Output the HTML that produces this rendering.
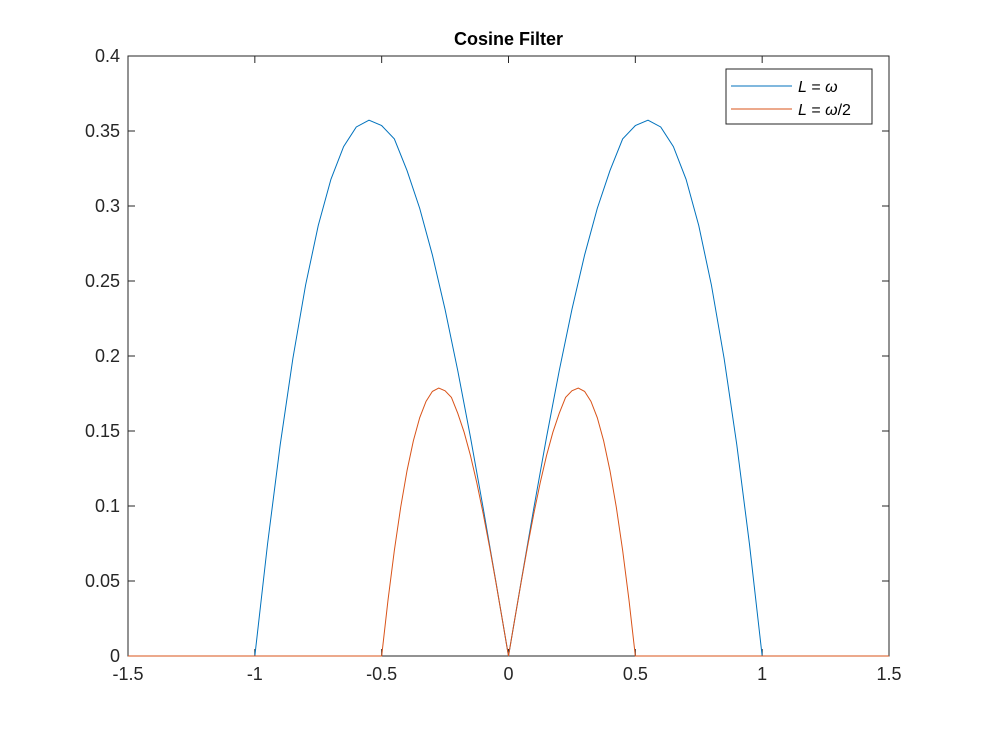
<!DOCTYPE html>
<html><head><meta charset="utf-8"><style>
body{margin:0;background:#fff;}
svg text{font-family:"Liberation Sans",sans-serif;}
</style></head><body>
<svg id="c" width="983" height="736" xmlns="http://www.w3.org/2000/svg"></svg>
<script>
const xTicks=[-1.5,-1,-0.5,0,0.5,1,1.5];
const xTickLabels=["-1.5","-1","-0.5","0","0.5","1","1.5"];
const yTicks=[0,0.05,0.1,0.15,0.2,0.25,0.3,0.35,0.4];
const yTickLabels=["0","0.05","0.1","0.15","0.2","0.25","0.3","0.35","0.4"];
const blueX=[-1.5,-1,-0.95,-0.9,-0.85,-0.8,-0.75,-0.7,-0.65,-0.6,-0.55,-0.5,-0.45,-0.4,-0.35,-0.3,-0.25,-0.2,-0.15,-0.1,-0.05,0,0.05,0.1,0.15,0.2,0.25,0.3,0.35,0.4,0.45,0.5,0.55,0.6,0.65,0.7,0.75,0.8,0.85,0.9,0.95,1,1.5];
const blueY=[0,0,0.0745,0.1408,0.1984,0.2472,0.2870,0.3178,0.3396,0.3527,0.3572,0.3536,0.3447,0.3236,0.2984,0.2673,0.2310,0.1902,0.1459,0.0988,0.0498,0,0.0498,0.0988,0.1459,0.1902,0.2310,0.2673,0.2984,0.3236,0.3447,0.3536,0.3572,0.3527,0.3396,0.3178,0.2870,0.2472,0.1984,0.1408,0.0745,0,0];
const redX=[-1.5,-0.5,-0.475,-0.45,-0.425,-0.4,-0.375,-0.35,-0.325,-0.3,-0.275,-0.25,-0.225,-0.2,-0.175,-0.15,-0.125,-0.1,-0.075,-0.05,-0.025,0,0.025,0.05,0.075,0.1,0.125,0.15,0.175,0.2,0.225,0.25,0.275,0.3,0.325,0.35,0.375,0.4,0.425,0.45,0.475,0.5,1.5];
const redY=[0,0,0.0373,0.0704,0.0992,0.1236,0.1435,0.1589,0.1698,0.1764,0.1786,0.1768,0.1724,0.1618,0.1492,0.1337,0.1155,0.0951,0.0730,0.0494,0.0249,0,0.0249,0.0494,0.0730,0.0951,0.1155,0.1337,0.1492,0.1618,0.1724,0.1768,0.1786,0.1764,0.1698,0.1589,0.1435,0.1236,0.0992,0.0704,0.0373,0,0];
const L=128,R=889,T=56,B=656;
const sx=v=>L+(v+1.5)/3*(R-L);
const sy=v=>B-v/0.4*(B-T);
const svg=document.getElementById('c');
const NS='http://www.w3.org/2000/svg';
function mk(tag,attrs,parent){const e=document.createElementNS(NS,tag);for(const k in attrs)e.setAttribute(k,attrs[k]);(parent||svg).appendChild(e);return e;}
const frame=mk('rect',{x:L,y:T,width:R-L,height:B-T,fill:'#fff',stroke:'#262626','stroke-width':1});


xTicks.forEach((v,i)=>{const x=sx(v);
 mk('line',{x1:x,y1:B,x2:x,y2:B-7,stroke:'#262626'});mk('line',{x1:x,y1:T,x2:x,y2:T+7,stroke:'#262626'});
 const t=mk('text',{x:x,y:B+24,'text-anchor':'middle','font-size':18,fill:'#262626'});t.textContent=xTickLabels[i];
 
 });
yTicks.forEach((v,i)=>{const y=sy(v);
 mk('line',{x1:L,y1:y,x2:L+7,y2:y,stroke:'#262626'});mk('line',{x1:R,y1:y,x2:R-7,y2:y,stroke:'#262626'});
 const t=mk('text',{x:L-8,y:y+6,'text-anchor':'end','font-size':18,fill:'#262626'});t.textContent=yTickLabels[i];
 
 });
function line(xs,ys,col,name){const p=mk('polyline',{points:xs.map((x,i)=>sx(x)+','+sy(ys[i])).join(' '),fill:'none',stroke:col,'stroke-width':1});
 
 }
line(blueX,blueY,'#0072BD','series-l-omega');
line(redX,redY,'#D95319','series-l-omega-half');
const title=mk('text',{x:(L+R)/2,y:45,'text-anchor':'middle','font-size':18,'font-weight':'bold',fill:'#000'});title.textContent='Cosine Filter';


const lg=mk('g',{});


mk('rect',{x:726,y:69,width:146,height:55,fill:'#fff',stroke:'#262626'},lg);
mk('line',{x1:731,y1:86,x2:792,y2:86,stroke:'#0072BD'},lg);
mk('line',{x1:731,y1:109,x2:792,y2:109,stroke:'#D95319'},lg);
const t1=mk('text',{x:798,y:92,'font-size':16,fill:'#000','font-family':'Liberation Serif'});
const t2=mk('text',{x:798,y:115,'font-size':16,fill:'#000','font-family':'Liberation Serif'});
t1.innerHTML='<tspan font-style="italic">L</tspan> = <tspan font-style="italic">ω</tspan>';
t2.innerHTML='<tspan font-style="italic">L</tspan> = <tspan font-style="italic">ω</tspan>/2';




</script>
</body></html>
